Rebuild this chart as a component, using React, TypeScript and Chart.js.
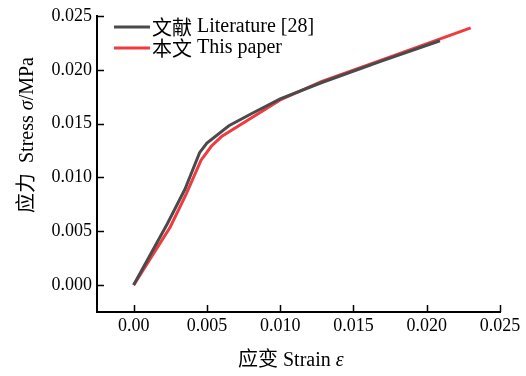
import React, { useEffect, useRef } from "react";
import { Chart, registerables } from "chart.js";

Chart.register(...registerables);

// ---- data ----
const literatureStrain = [0, 0.0023, 0.0035, 0.0045, 0.005, 0.0065, 0.008, 0.01, 0.0128, 0.0169, 0.0209];
const literatureStress = [0, 0.0057, 0.0089, 0.0123, 0.0132, 0.0148, 0.0159, 0.0173, 0.0188, 0.0208, 0.0227];

const paperStrain = [0, 0.0025, 0.0036, 0.0046, 0.0053, 0.006, 0.008, 0.01, 0.0128, 0.0169, 0.023];
const paperStress = [0, 0.0054, 0.0085, 0.0116, 0.0129, 0.0138, 0.0155, 0.0172, 0.0189, 0.0209, 0.0239];

const xTickValues = [0, 0.005, 0.01, 0.015, 0.02, 0.025];
const xTickLabels = ["0.00", "0.005", "0.010", "0.015", "0.020", "0.025"];
const yTickValues = [0, 0.005, 0.01, 0.015, 0.02, 0.025];
const yTickLabels = ["0.000", "0.005", "0.010", "0.015", "0.020", "0.025"];

const seriesLabels = ["文献 Literature [28]", "本文 This paper"];
const seriesColors = ["#4a4a4a", "#ef3b40"];

const SERIF = "'Liberation Serif', 'Times New Roman', serif";
const CJK = "'Noto Sans CJK SC', sans-serif";

type Seg = { t: string; italic?: boolean };

function splitRuns(text: string): { t: string; cjk: boolean }[] {
  const out: { t: string; cjk: boolean }[] = [];
  for (const ch of text) {
    const cjk = /[\u3400-\u9fff]/.test(ch);
    const last = out[out.length - 1];
    if (last && last.cjk === cjk) last.t += ch;
    else out.push({ t: ch, cjk });
  }
  return out;
}

function drawSegs(ctx: CanvasRenderingContext2D, segs: Seg[], x: number, y: number, size: number) {
  let cx = x;
  for (const s of segs) {
    for (const r of splitRuns(s.t)) {
      ctx.font = `${s.italic ? "italic " : ""}${size}px ${r.cjk ? CJK : SERIF}`;
      ctx.fillText(r.t, cx, y);
      cx += ctx.measureText(r.t).width;
    }
  }
}

function idxOf(arr: number[], v: number) {
  let best = 0;
  for (let i = 0; i < arr.length; i++) if (Math.abs(arr[i] - v) < Math.abs(arr[best] - v)) best = i;
  return best;
}

const decorPlugin = {
  id: "decor",
  afterDraw(chart: any) {
    const ctx: CanvasRenderingContext2D = chart.ctx;
    const xs = chart.scales.x;
    const ys = chart.scales.y;
    const area = chart.chartArea;
    ctx.save();
    // inward tick marks
    ctx.strokeStyle = "#000";
    ctx.lineWidth = 1.5;
    ctx.beginPath();
    for (const v of xTickValues) {
      const px = Math.round(xs.getPixelForValue(v)) + 0.5;
      ctx.moveTo(px, area.bottom);
      ctx.lineTo(px, area.bottom - 7);
    }
    for (const v of yTickValues) {
      const py = Math.round(ys.getPixelForValue(v)) + 0.5;
      ctx.moveTo(area.left, py);
      ctx.lineTo(area.left + 7, py);
    }
    ctx.stroke();

    // legend
    ctx.textBaseline = "middle";
    ctx.textAlign = "left";
    ctx.fillStyle = "#000";
    chart.data.datasets.forEach((ds: any, i: number) => {
      const ly = 27 + i * 21;
      ctx.strokeStyle = ds.borderColor;
      ctx.lineWidth = 3;
      ctx.beginPath();
      ctx.moveTo(114, ly);
      ctx.lineTo(150, ly);
      ctx.stroke();
      ctx.fillStyle = "#000";
      drawSegs(ctx, [{ t: ds.label }], 152, ly, 20);
    });

    // x title
    ctx.textBaseline = "alphabetic";
    drawSegs(ctx, [{ t: "应变 Strain " }, { t: "ε", italic: true }], 238, 366, 20);

    // y title
    ctx.translate(33, 213);
    ctx.rotate(-Math.PI / 2);
    drawSegs(ctx, [{ t: "应力  Stress " }, { t: "σ", italic: true }, { t: "/MPa" }], 0, 0, 20);
    ctx.restore();
  },
};

export default function App() {
  const ref = useRef<HTMLCanvasElement>(null);
  useEffect(() => {
    if (!ref.current) return;
    const chart = new Chart(ref.current, {
      type: "line",
      data: {
        datasets: [
          {
            label: seriesLabels[0],
            data: literatureStrain.map((x, i) => ({ x, y: literatureStress[i] })),
            borderColor: seriesColors[0],
            borderWidth: 3,
            pointRadius: 0,
            tension: 0,
            fill: false,
          },
          {
            label: seriesLabels[1],
            data: paperStrain.map((x, i) => ({ x, y: paperStress[i] })),
            borderColor: seriesColors[1],
            borderWidth: 3,
            pointRadius: 0,
            tension: 0,
            fill: false,
          },
        ],
      },
      options: {
        animation: false,
        responsive: false,
        devicePixelRatio: 1,
        layout: { padding: { left: 0, top: 16, right: 26, bottom: 0 } },
        plugins: { legend: { display: false }, tooltip: { enabled: false } },
        scales: {
          x: {
            type: "linear",
            min: -0.0025,
            max: 0.025,
            afterBuildTicks: (s: any) => {
              s.ticks = xTickValues.map((v) => ({ value: v }));
            },
            afterFit: (s: any) => {
              s.height = 64;
            },
            ticks: {
              callback: (v: any) => xTickLabels[idxOf(xTickValues, Number(v))],
              font: { family: SERIF, size: 18 },
              color: "#000",
              padding: 3,
              maxRotation: 0,
              autoSkip: false,
            },
            grid: { display: false, drawTicks: false },
            border: { display: true, color: "#000", width: 2 },
          },
          y: {
            type: "linear",
            min: -0.0025,
            max: 0.025,
            afterBuildTicks: (s: any) => {
              s.ticks = yTickValues.map((v) => ({ value: v }));
            },
            afterFit: (s: any) => {
              s.width = 97;
            },
            ticks: {
              callback: (v: any) => yTickLabels[idxOf(yTickValues, Number(v))],
              font: { family: SERIF, size: 18 },
              color: "#000",
              padding: 5,
              autoSkip: false,
            },
            grid: { display: false, drawTicks: false },
            border: { display: true, color: "#000", width: 2 },
          },
        },
      } as any,
      plugins: [decorPlugin],
    });
    return () => chart.destroy();
  }, []);
  return (
    <div style={{ position: "absolute", left: 0, top: 0, width: 526, height: 376, background: "#fff" }}>
      <canvas ref={ref} width={526} height={376} />
    </div>
  );
}
